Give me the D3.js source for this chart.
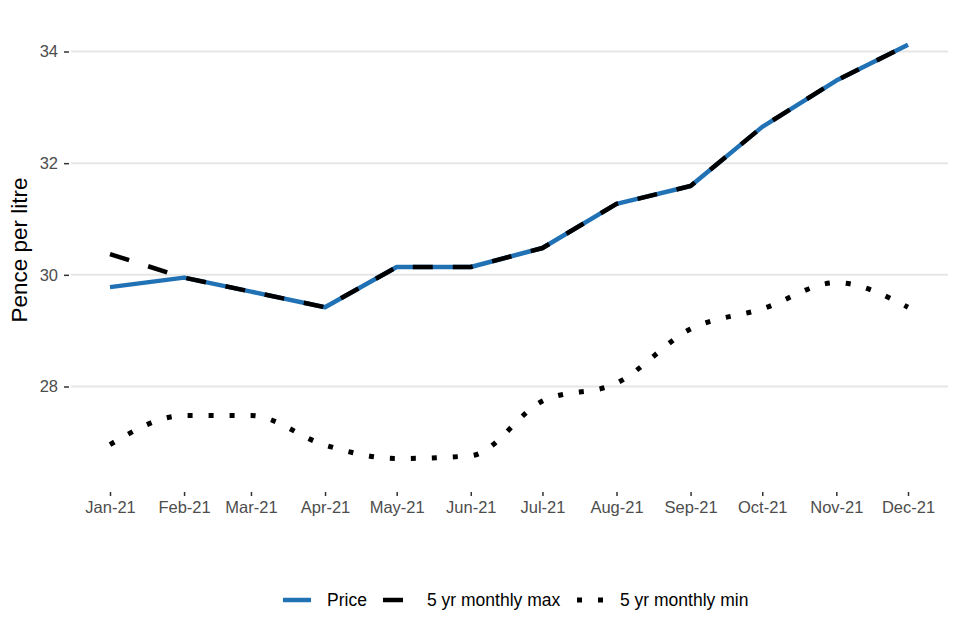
<!DOCTYPE html>
<html>
<head>
<meta charset="utf-8">
<script src="https://cdn.jsdelivr.net/npm/d3@7"></script>
<style>
  html, body { margin: 0; padding: 0; background: #fff; }
  svg { display: block; font-family: "Liberation Sans", Arial, sans-serif; }
</style>
</head>
<body>
<svg id="chart" width="960" height="640"></svg>
<script>
const months = ["Jan-21","Feb-21","Mar-21","Apr-21","May-21","Jun-21","Jul-21","Aug-21","Sep-21","Oct-21","Nov-21","Dec-21"];
const price  = [29.78, 29.95, 29.70, 29.42, 30.14, 30.14, 30.48, 31.27, 31.59, 32.65, 33.48, 34.12];
const maxVal = [30.37, 29.95, 29.70, 29.42, 30.14, 30.14, 30.48, 31.27, 31.59, 32.65, 33.48, 34.12];
const minVal = [26.96, 27.48, 27.48, 26.95, 26.71, 26.76, 27.74, 28.06, 29.03, 29.39, 29.86, 29.42];
const yTicks = [28, 30, 32, 34];
const legendLabels = ["Price", "5 yr monthly max", "5 yr monthly min"];

const parse = d3.timeParse("%b-%y");
const dates = months.map(parse);

const svg = d3.select("#chart");
const x = d3.scaleTime().domain([dates[0], dates[dates.length - 1]]).range([110, 908]);
const y = d3.scaleLinear().domain([28, 34]).range([386.5, 51.5]);

// gridlines
svg.append("g").selectAll("line").data(yTicks).join("line")
  .attr("x1", 71).attr("x2", 948)
  .attr("y1", d => y(d)).attr("y2", d => y(d))
  .attr("stroke", "#e6e6e6").attr("stroke-width", 2);

// y axis
const yAxis = svg.append("g").attr("transform", "translate(69,0)")
  .call(d3.axisLeft(y).tickValues(yTicks).tickSize(5).tickPadding(6).tickFormat(d3.format("d")));
yAxis.select(".domain").remove();
yAxis.selectAll(".tick line").attr("stroke", "#333").attr("stroke-width", 1.5);
yAxis.selectAll(".tick text").attr("fill", "#4d4d4d").style("font-size", "16.5px")
  .style("font-family", "Liberation Sans, Arial, sans-serif");

// x axis
const xAxis = svg.append("g").attr("transform", "translate(0,492)")
  .call(d3.axisBottom(x).tickValues(dates).tickSize(4).tickPadding(5).tickFormat(d3.timeFormat("%b-%y")));
xAxis.select(".domain").remove();
xAxis.selectAll(".tick line").attr("stroke", "#333").attr("stroke-width", 1.5);
xAxis.selectAll(".tick text").attr("fill", "#4d4d4d").style("font-size", "16.5px")
  .style("font-family", "Liberation Sans, Arial, sans-serif");

// y title
svg.append("text")
  .attr("transform", "translate(27,250) rotate(-90)")
  .attr("text-anchor", "middle")
  .style("font-size", "22.5px").attr("fill", "#000")
  .text("Pence per litre");

const line = d3.line().x((d, i) => x(dates[i])).y(d => y(d));
const curveLine = d3.line().x((d, i) => x(dates[i])).y(d => y(d)).curve(d3.curveMonotoneX);

svg.append("path").datum(price).attr("d", line)
  .attr("fill", "none").attr("stroke", "#2171b5").attr("stroke-width", 4.5).attr("stroke-linejoin", "round");
svg.append("path").datum(maxVal).attr("d", line)
  .attr("fill", "none").attr("stroke", "#000").attr("stroke-width", 4.5)
  .attr("stroke-dasharray", "20,20");
svg.append("path").datum(minVal).attr("d", curveLine)
  .attr("fill", "none").attr("stroke", "#000").attr("stroke-width", 5)
  .attr("stroke-dasharray", "5,16");

// legend
const legendItems = [
  {label: legendLabels[0], x0: 283, tx: 327, stroke: "#2171b5", dash: null, w: 4.5},
  {label: legendLabels[1], x0: 383, tx: 427, stroke: "#000", dash: "20,20", w: 4.5},
  {label: legendLabels[2], x0: 577, tx: 620, stroke: "#000", dash: "5,16", w: 5}
];
const lg = svg.append("g");
legendItems.forEach(it => {
  lg.append("line").attr("x1", it.x0).attr("x2", it.x0 + 28)
    .attr("y1", 600).attr("y2", 600)
    .attr("stroke", it.stroke).attr("stroke-width", it.w)
    .attr("stroke-dasharray", it.dash);
  lg.append("text").attr("x", it.tx).attr("y", 606)
    .style("font-size", "17.5px").attr("fill", "#000").text(it.label);
});
</script>
</body>
</html>
